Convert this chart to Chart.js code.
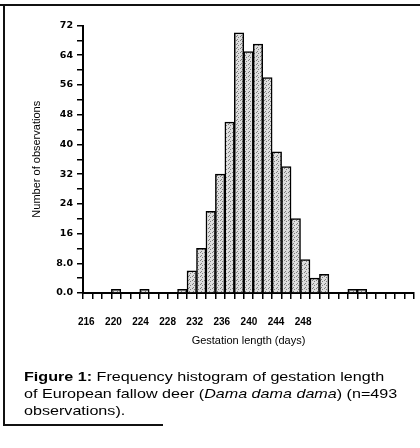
<!DOCTYPE html>
<html>
<head>
<meta charset="utf-8">
<script src="https://cdn.jsdelivr.net/npm/chart.js@4.4.0/dist/chart.umd.min.js"></script>
<style>
  html, body { margin: 0; padding: 0; background: #fff; }
  #wrap { position: relative; width: 420px; height: 448px; overflow: hidden; }
  #chart { position: absolute; left: 0; top: 0; }
  .frame-top { position: absolute; left: 0; top: 4px; width: 420px; height: 2px; background: #111; }
  .frame-left { position: absolute; left: 3px; top: 4px; width: 2px; height: 422px; background: #111; }
  .frame-bottom { position: absolute; left: 3px; top: 424px; width: 160px; height: 2px; background: #111; }
  #caption {
    position: absolute; left: 24px; top: 368px;
    font-family: 'Liberation Sans', Arial, sans-serif; font-size: 13px; line-height: 17px;
    color: #000; white-space: nowrap;
    transform: scaleX(1.24); transform-origin: 0 0;
  }
</style>
</head>
<body>
<div id="wrap">
  <canvas id="chart" width="420" height="348"></canvas>
  <div class="frame-top"></div>
  <div class="frame-left"></div>
  <div class="frame-bottom"></div>
  <div id="caption">
    <b>Figure 1:</b> Frequency histogram of gestation length<br>
    of European fallow deer (<i>Dama dama dama</i>) (n=493<br>
    observations).
  </div>
</div>
<script>
// one bin per day
const binDays = ['216', '217', '218', '219', '220', '221', '222', '223', '224', '225',
  '226', '227', '228', '229', '230', '231', '232', '233', '234', '235',
  '236', '237', '238', '239', '240', '241', '242', '243', '244', '245',
  '246', '247', '248', '249', '250'];
const counts = [0, 0, 0, 1, 0, 0, 1, 0, 0, 0,
  1, 6, 12, 22, 32, 46, 70, 65, 67, 58,
  38, 34, 20, 9, 4, 5, 0, 0, 1, 1,
  0, 0, 0, 0, 0];

const xTickLabels = [216, 220, 224, 228, 232, 236, 240, 244, 248];
const yTickValues = [0, 4, 8, 12, 16, 20, 24, 28, 32, 36, 40, 44, 48, 52, 56, 60, 64, 68, 72];
const yTickLabels = ['0.0', '', '8.0', '', '16', '', '24', '', '32', '', '40', '', '48', '', '56', '', '64', '', '72'];

const canvas = document.getElementById('chart');
const ctx = canvas.getContext('2d');

// grey stipple fill like the printed bars
function stipple(c2d) {
  const c = document.createElement('canvas');
  c.width = 4;
  c.height = 4;
  const g = c.getContext('2d');
  g.fillStyle = '#dedede';
  g.fillRect(0, 0, 4, 4);
  g.fillStyle = '#7c7c7c';
  g.fillRect(0, 0, 1, 1);
  g.fillRect(2, 1, 1, 1);
  g.fillRect(1, 3, 1, 1);
  return c2d.createPattern(c, 'repeat');
}

const labelFont = { family: "'Liberation Sans', Arial, sans-serif", size: 11 };

new Chart(ctx, {
  type: 'bar',
  data: {
    labels: binDays,
    datasets: [{
      data: counts,
      backgroundColor: stipple(ctx),
      borderColor: '#000',
      borderWidth: 1.5,
      barPercentage: 1,
      categoryPercentage: 1,
      xAxisID: 'x'
    }]
  },
  options: {
    responsive: false,
    animation: false,
    devicePixelRatio: 1,
    layout: { padding: { top: 25.5, right: 6, left: 0, bottom: 0 } },
    plugins: { legend: { display: false }, tooltip: { enabled: false } },
    scales: {
      x: {
        type: 'category',
        position: 'bottom',
        offset: true,
        grid: { offset: true, drawOnChartArea: false, drawTicks: true, tickLength: 6, color: '#000', lineWidth: 1.5 },
        border: { display: true, color: '#000', width: 2 },
        ticks: { display: false, autoSkip: false },
        afterFit: s => { s.height = 8; }
      },
      // label axis: the printed day labels do not sit on the bin centres
      days: {
        type: 'linear',
        position: 'bottom',
        offset: false,
        min: 215.51,
        max: 264.37,
        grid: { display: false, drawTicks: false },
        border: { display: false },
        afterBuildTicks: s => { s.ticks = xTickLabels.map(v => ({ value: v })); },
        ticks: {
          padding: 15,
          color: '#000',
          font: { family: "'Liberation Sans Narrow', 'Liberation Sans', Arial, sans-serif", size: 10, weight: 'bold' }
        },
        title: { display: true, text: 'Gestation length (days)', color: '#000', font: labelFont, padding: 0 },
        afterFit: s => { s.height = 47; }
      },
      y: {
        min: 0,
        max: 72,
        grid: { drawOnChartArea: false, tickLength: 6, color: '#000', lineWidth: 1.5 },
        border: { color: '#000', width: 2 },
        afterBuildTicks: s => { s.ticks = yTickValues.map(v => ({ value: v })); },
        ticks: {
          padding: 4,
          color: '#000',
          font: { family: "'DejaVu Sans', sans-serif", size: 9.5, weight: 'bold' },
          callback: v => yTickLabels[yTickValues.indexOf(v)]
        },
        title: { display: true, text: 'Number of observations', color: '#000', font: labelFont, padding: { top: 30.4, bottom: 0 } },
        afterFit: s => { s.width = 83; }
      }
    }
  }
});
</script>
</body>
</html>
